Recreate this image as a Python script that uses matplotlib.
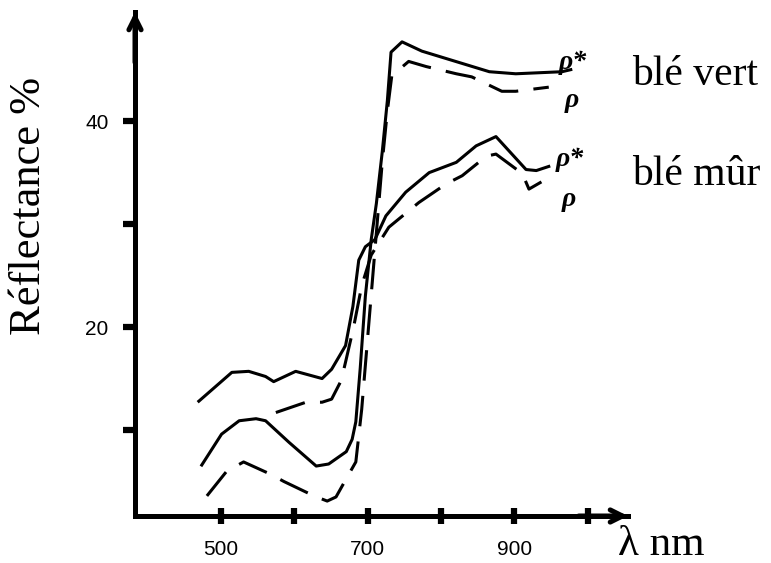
# Réflectance du blé vert / blé mûr
import matplotlib
matplotlib.use('Agg')
import matplotlib.pyplot as plt

# blé vert, trait plein
vert_lam = [474, 501, 525, 548, 561, 593, 630, 647, 671, 679, 684, 690, 697, 705, 712, 720, 727, 732, 747, 774, 866, 902, 965, 977]
vert_val = [6.6, 9.6, 10.9, 11.1, 10.9, 8.8, 6.5, 6.7, 7.9, 9.1, 10.8, 16, 23, 28.5, 32, 37, 42, 46.7, 47.7, 46.8, 44.8, 44.6, 44.8, 45.0]
# blé vert, tirets
vert_d_lam = [481, 508, 531, 568, 586, 627, 645, 657, 672, 684, 692, 699, 706, 713, 720, 727, 733, 756, 780, 821, 842, 883, 902, 947]
vert_d_val = [3.6, 6.0, 6.9, 5.7, 5.0, 3.6, 3.1, 3.5, 5.4, 6.9, 12, 18, 24, 30, 36, 41, 44.4, 45.8, 45.3, 44.6, 44.3, 42.9, 42.9, 43.3]
# blé mûr, trait plein
mur_lam = [470, 515, 538, 561, 572, 602, 638, 651, 670, 680, 688, 697, 710, 725, 752, 784, 821, 848, 875, 916, 930, 947]
mur_val = [12.8, 15.6, 15.7, 15.2, 14.7, 15.7, 15.0, 15.9, 18.2, 22, 26.5, 27.8, 28.5, 30.8, 33.1, 35.0, 36.0, 37.6, 38.5, 35.3, 35.2, 35.6]
# blé mûr, tirets
mur_d_lam = [575, 616, 638, 651, 664, 670, 681, 692, 705, 729, 770, 807, 829, 862, 875, 911, 920, 937]
mur_d_val = [11.7, 12.7, 12.7, 13.0, 14.8, 16.6, 20, 24, 27, 29.7, 32.1, 33.9, 34.7, 36.6, 36.8, 34.9, 33.4, 34.1]

xticks = [500, 600, 700, 800, 900, 1000]
xticklabels = ['500', '', '700', '', '900', '']
yticks = [10, 20, 30, 40]
yticklabels = ['', '20', '', '40']

serif = 'Liberation Serif'

fig = plt.figure(figsize=(7.71, 5.63), dpi=100)
ax = fig.add_axes([135 / 771, 1 - 516 / 563, 493 / 771, 504 / 563])
ax.set_xlim(383, 1055)
ax.set_ylim(1.65, 50.6)

lw = 2.2
ax.plot(vert_lam, vert_val, color='black', lw=lw)
ax.plot(mur_lam, mur_val, color='black', lw=lw)
ax.plot(vert_d_lam, vert_d_val, color='black', lw=lw, dashes=(10, 5))
ax.plot(mur_d_lam, mur_d_val, color='black', lw=lw, dashes=(10, 5))

# rho* / rho marks at the end of the curves
for x, y, s in [(980, 45.7, 'ρ*'), (978, 42.0, 'ρ'), (975, 36.3, 'ρ*'), (974, 32.4, 'ρ')]:
    ax.text(x, y, s, fontsize=20, fontweight='bold', style='italic', family=serif,
            ha='center', va='center')

ax.text(1061, 44.5, 'blé vert', fontsize=30, family=serif, va='center', ha='left', clip_on=False)
ax.text(1061, 34.8, 'blé mûr', fontsize=30, family=serif, va='center', ha='left', clip_on=False)

for side in ['top', 'right']:
    ax.spines[side].set_visible(False)
for side in ['left', 'bottom']:
    ax.spines[side].set_linewidth(3.6)

ax.set_xticks(xticks)
ax.set_xticklabels(xticklabels, fontsize=15, family='Liberation Sans')
ax.set_yticks(yticks)
ax.set_yticklabels(yticklabels, fontsize=15, family='Liberation Sans')
ax.tick_params(axis='x', direction='inout', length=11, width=4.5, pad=12)
ax.tick_params(axis='y', direction='out', length=9, width=4.5, pad=10)

# arrow heads
ax.annotate('', xy=(1.0, 0.0), xytext=(0.9, 0.0), xycoords='axes fraction',
            arrowprops=dict(arrowstyle='->', lw=3.6, mutation_scale=22, shrinkA=0, shrinkB=0))
ax.annotate('', xy=(0.0, 1.0), xytext=(0.0, 0.9), xycoords='axes fraction',
            arrowprops=dict(arrowstyle='->', lw=3.6, mutation_scale=22, shrinkA=0, shrinkB=0))

fig.text(618 / 771, 1 - 555 / 563, 'λ nm', fontsize=31, family=serif, ha='left', va='baseline')
fig.text(29 / 771, 1 - 206 / 563, 'Réflectance %', fontsize=32, family=serif,
         rotation=90, ha='center', va='center')

fig.savefig('out.png', dpi=100)
